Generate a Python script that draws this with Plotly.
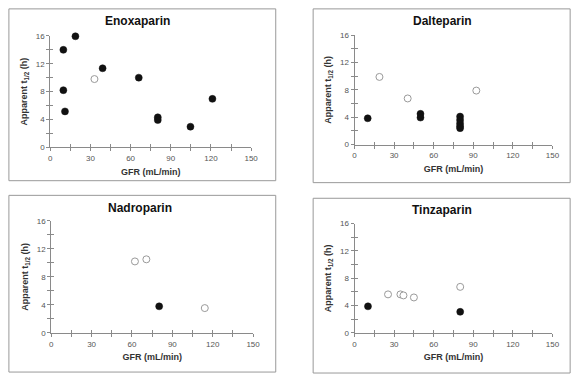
import plotly.graph_objects as go

# ---- data ----
titles = ["Enoxaparin", "Dalteparin", "Nadroparin", "Tinzaparin"]

eno_filled_x = [9.8, 18.8, 9.8, 11.0, 39.1, 66.1, 80.3, 80.3, 104.7, 121.1]
eno_filled_y = [14.0, 15.95, 8.2, 5.15, 11.35, 10.0, 4.3, 3.9, 2.95, 6.95]
eno_open_x = [33.0]
eno_open_y = [9.8]

dal_filled_x = [10.0, 50.0, 50.0, 80.0, 80.0, 80.0, 80.0, 80.0]
dal_filled_y = [3.85, 4.5, 3.95, 4.1, 3.6, 3.1, 2.7, 2.4]
dal_open_x = [18.9, 40.3, 92.3]
dal_open_y = [9.9, 6.75, 7.9]

nad_filled_x = [80.2]
nad_filled_y = [3.8]
nad_open_x = [62.2, 70.7, 114.1]
nad_open_y = [10.2, 10.5, 3.55]

tin_filled_x = [10.2, 80.1]
tin_filled_y = [3.9, 3.1]
tin_open_x = [25.4, 34.8, 37.1, 45.0, 80.1]
tin_open_y = [5.65, 5.65, 5.5, 5.2, 6.75]

x_ticks = [0, 30, 60, 90, 120, 150]
y_ticks = [0, 4, 8, 12, 16]

panels = [
    (eno_filled_x, eno_filled_y, eno_open_x, eno_open_y),
    (dal_filled_x, dal_filled_y, dal_open_x, dal_open_y),
    (nad_filled_x, nad_filled_y, nad_open_x, nad_open_y),
    (tin_filled_x, tin_filled_y, tin_open_x, tin_open_y),
]

# ---- layout geometry (pixels) ----
W, H = 587, 379
axes_px = [  # x0, x1, ytop, ybottom
    (49, 253, 32.7, 146.7),
    (358, 559, 32, 144),
    (50, 255, 222, 337),
    (358, 559, 225, 337),
]
boxes_px = [
    (7, 278, 5, 181),
    (316, 577, 5, 183),
    (7, 278, 196, 377),
    (316, 577, 199, 378),
]
title_px = [(138, 17), (447, 17), (140, 209), (447, 211)]

FONT = "Liberation Sans, Arial, sans-serif"
AXC = "#8a8a8a"

fig = go.Figure()
layout = dict(
    width=W, height=H, margin=dict(l=0, r=0, t=0, b=0),
    paper_bgcolor="white", plot_bgcolor="white", showlegend=False,
    font=dict(family=FONT, color="#333"),
)
shapes = []
annotations = []

for i, (fx, fy, ox, oy) in enumerate(panels):
    n = i + 1
    xa = f"x{n}" if n > 1 else "x"
    ya = f"y{n}" if n > 1 else "y"
    x0, x1, yt, yb = axes_px[i]
    xdom = [x0 / W, x1 / W]
    ydom = [1 - yb / H, 1 - yt / H]

    fig.add_trace(go.Scatter(
        x=ox, y=oy, mode="markers", xaxis=xa, yaxis=ya, cliponaxis=False,
        marker=dict(size=7, color="white", line=dict(color="#9a9a9a", width=1)),
    ))
    fig.add_trace(go.Scatter(
        x=fx, y=fy, mode="markers", xaxis=xa, yaxis=ya, cliponaxis=False,
        marker=dict(size=7, color="#111", line=dict(color="#111", width=0.5)),
    ))

    xkey = f"xaxis{n}" if n > 1 else "xaxis"
    ykey = f"yaxis{n}" if n > 1 else "yaxis"
    layout[xkey] = dict(
        domain=xdom, anchor=ya, range=[0, 150], tickvals=x_ticks,
        showgrid=False, zeroline=False, showline=True, linecolor=AXC, linewidth=1,
        ticks="outside", ticklen=3, tickcolor=AXC,
        minor=dict(dtick=15, tick0=0, ticks="outside", ticklen=3, tickcolor=AXC),
        tickfont=dict(size=8, color="#555", family=FONT),
        title=dict(text="<b>GFR (mL/min)</b>", font=dict(size=9, color="#333", family=FONT), standoff=6),
        fixedrange=True,
    )
    layout[ykey] = dict(
        domain=ydom, anchor=xa, range=[0, 16], tickvals=y_ticks,
        showgrid=False, zeroline=False, showline=True, linecolor=AXC, linewidth=1,
        ticks="outside", ticklen=3, tickcolor=AXC,
        minor=dict(dtick=2, tick0=0, ticks="outside", ticklen=3, tickcolor=AXC),
        tickfont=dict(size=8, color="#555", family=FONT),
        title=dict(text="<b>Apparent t<sub>1/2</sub> (h)</b>", font=dict(size=9, color="#333", family=FONT), standoff=6),
        fixedrange=True,
    )
    # overlay axes giving the inward half of the crossing ticks
    m = n + 4
    layout[f"xaxis{m}"] = dict(
        domain=xdom, anchor=ya, overlaying=xa, range=[0, 150], tickvals=x_ticks,
        showgrid=False, zeroline=False, showline=False, showticklabels=False,
        ticks="inside", ticklen=3, tickcolor=AXC,
        minor=dict(dtick=15, tick0=0, ticks="inside", ticklen=3, tickcolor=AXC),
        fixedrange=True,
    )
    layout[f"yaxis{m}"] = dict(
        domain=ydom, anchor=xa, overlaying=ya, range=[0, 16], tickvals=y_ticks,
        showgrid=False, zeroline=False, showline=False, showticklabels=False,
        ticks="inside", ticklen=3, tickcolor=AXC,
        minor=dict(dtick=2, tick0=0, ticks="inside", ticklen=3, tickcolor=AXC),
        fixedrange=True,
    )
    fig.add_trace(go.Scatter(x=[None], y=[None], xaxis=f"x{m}", yaxis=f"y{m}",
                             hoverinfo="skip", showlegend=False))

    bx0, bx1, by0, by1 = boxes_px[i]
    shapes.append(dict(type="rect", xref="paper", yref="paper",
                       x0=bx0 / W, x1=bx1 / W, y0=1 - by1 / H, y1=1 - by0 / H,
                       line=dict(color="#999", width=1), layer="below"))
    tx, ty = title_px[i]
    annotations.append(dict(text=f"<b>{titles[i]}</b>", xref="paper", yref="paper",
                            x=tx / W, y=1 - ty / H, showarrow=False,
                            xanchor="center", yanchor="middle",
                            font=dict(size=12, color="#111", family=FONT)))

layout["shapes"] = shapes
layout["annotations"] = annotations
fig.update_layout(**layout)
fig.write_html("out.html")
